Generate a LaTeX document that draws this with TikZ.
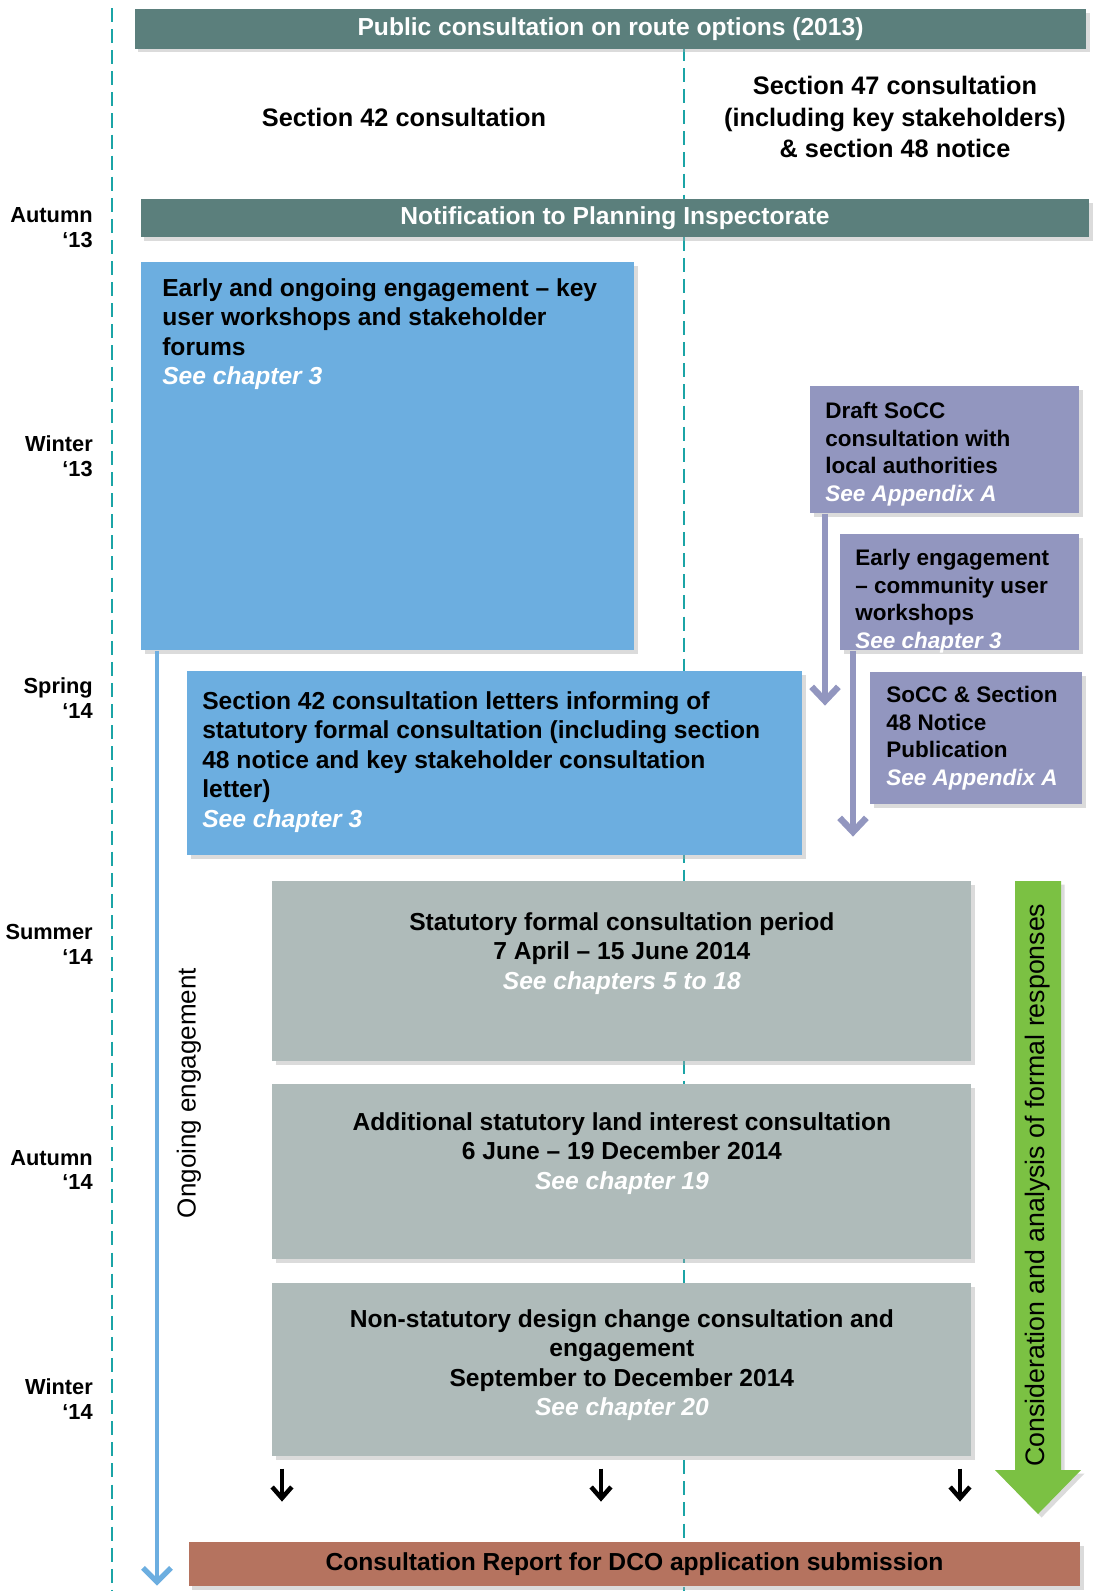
\documentclass[tikz,border=0pt]{standalone}
\usepackage{fontspec}
\setmainfont{Liberation Sans}
\usepackage{xcolor}
\usetikzlibrary{arrows.meta, positioning, calc, shadows}

\definecolor{barteal}{HTML}{5B7F7C}
\definecolor{dashteal}{HTML}{1BA4A6}
\definecolor{engblue}{HTML}{6CAEE0}
\definecolor{socpurple}{HTML}{9296BF}
\definecolor{statgrey}{HTML}{AFBBBA}
\definecolor{reportbrown}{HTML}{B5735F}
\definecolor{respgreen}{HTML}{7BC143}

\newcommand\mainsize{\fontsize{17.5}{21}\selectfont}
\newcommand\socsize{\fontsize{16}{19.6}\selectfont}
\newcommand\seeref[1]{\textcolor{white}{\itshape #1}}

\begin{document}
\begin{tikzpicture}[x=0.025cm, y=-0.025cm, font=\bfseries\mainsize,
    boxshadow/.style={drop shadow={shadow xshift=2.5pt, shadow yshift=-2.5pt, fill=black!35, opacity=0.4}},
    bar/.style={fill=barteal, boxshadow, text=white, inner sep=0pt},
    stagebox/.style={fill=#1, boxshadow, inner sep=0pt, anchor=north west},
    boxtext/.style={inner sep=0pt, align=left, anchor=north west},
    socbox/.style={boxtext, font=\bfseries\socsize},
    greytext/.style={inner sep=0pt, align=center, anchor=north},
    season/.style={anchor=east, align=right, inner sep=0pt, font=\bfseries\fontsize{15.5}{17.7}\selectfont},
    timeline/.style={dashteal, line width=2.1pt, dash pattern=on 10pt off 5pt},
    purplearr/.style={socpurple, line width=4.3pt, -{Straight Barb[length=10pt, width=19pt, line width=4.6pt]}},
    bluearr/.style={engblue, line width=2.9pt, -{Straight Barb[length=10pt, width=20pt, line width=3.8pt]}},
    blackarr/.style={black, line width=2.6pt, -{Straight Barb[length=8pt, width=14pt, line width=3.2pt]}}]
    \useasboundingbox (0,0) rectangle (1103,1591);

    % dashed guides
    \draw[timeline] (112,8) -- (112,1591);
    \draw[timeline] (684,47) -- (684,1591);

    % header
    \node[bar, minimum width=23.775cm, minimum height=0.975cm] (route) at (610.5,29) {Public consultation on route options (2013)};
    \node[font=\bfseries\fontsize{18}{22}\selectfont] (s42) at (404,117) {Section 42 consultation};
    \node[align=center, font=\bfseries\fontsize{18}{22.7}\selectfont] (s47) at (895,117) {Section 47 consultation\\(including key stakeholders)\\\& section 48 notice};
    \node[bar, minimum width=23.7cm, minimum height=0.95cm] (notify) at (615,218) {Notification to Planning Inspectorate};

    % seasons
    \node[season] (aut13) at (93,228) {Autumn\\‘13};
    \node[season] (win13) at (93,456) {Winter\\‘13};
    \node[season] (spr14) at (93,698) {Spring\\‘14};
    \node[season] (sum14) at (93,944.5) {Summer\\‘14};
    \node[season] (aut14) at (93,1170) {Autumn\\‘14};
    \node[season] (win14) at (93,1399.5) {Winter\\‘14};

    % section 42 column
    \node[stagebox=engblue, minimum width=12.325cm, minimum height=9.7cm] (early) at (141,262) {};
    \node[boxtext] (earlytxt) at ($(early.north west)+(21,16)$) {Early and ongoing engagement – key\\user workshops and stakeholder\\forums\\\seeref{See chapter 3}};
    \node[stagebox=engblue, minimum width=15.375cm, minimum height=4.6cm] (letters) at (187,671) {};
    \node[boxtext] (letterstxt) at ($(letters.north west)+(15,20)$) {Section 42 consultation letters informing of\\statutory formal consultation (including section\\48 notice and key stakeholder consultation\\letter)\\\seeref{See chapter 3}};

    % section 47 column
    \node[stagebox=socpurple, minimum width=6.725cm, minimum height=3.175cm] (draft) at (810,386) {};
    \node[socbox] (drafttxt) at ($(draft.north west)+(15,16)$) {Draft SoCC\\consultation with\\local authorities\\\seeref{See Appendix A}};
    \node[stagebox=socpurple, minimum width=5.975cm, minimum height=2.9cm] (community) at (840,534) {};
    \node[socbox] (communitytxt) at ($(community.north west)+(15,15)$) {Early engagement\\– community user\\workshops\\\seeref{See chapter 3}};
    \node[stagebox=socpurple, minimum width=5.3cm, minimum height=3.3cm] (publish) at (870,672) {};
    \node[socbox] (publishtxt) at ($(publish.north west)+(16,14)$) {SoCC \& Section\\48 Notice\\Publication\\\seeref{See Appendix A}};
    \draw[purplearr] ($(draft.south west)+(15,0)$) -- ++(0,192);
    \draw[purplearr] ($(community.south west)+(13,0)$) -- ++(0,186);

    % statutory stages
    \node[stagebox=statgrey, minimum width=17.475cm, minimum height=4.5cm] (stat1) at (272,881) {};
    \node[greytext] (stat1txt) at ($(stat1.north)+(0,31)$) {Statutory formal consultation period\\7 April – 15 June 2014\\\seeref{See chapters 5 to 18}};
    \node[stagebox=statgrey, minimum width=17.475cm, minimum height=4.375cm] (stat2) at (272,1084) {};
    \node[greytext] (stat2txt) at ($(stat2.north)+(0,28)$) {Additional statutory land interest consultation\\6 June – 19 December 2014\\\seeref{See chapter 19}};
    \node[stagebox=statgrey, minimum width=17.475cm, minimum height=4.325cm] (stat3) at (272,1283) {};
    \node[greytext] (stat3txt) at ($(stat3.north)+(0,26)$) {Non-statutory design change consultation and\\engagement\\September to December 2014\\\seeref{See chapter 20}};

    \draw[blackarr] ($(stat3.south west)+(10,12)$) -- ++(0,33);
    \draw[blackarr] ($(stat3.south west)+(329,12)$) -- ++(0,33);
    \draw[blackarr] ($(stat3.south west)+(688,12)$) -- ++(0,33);

    % responses arrow
    \fill[respgreen, boxshadow] (1015,881) -- (1061,881) -- (1061,1470) -- (1081,1470) -- (1038,1514) -- (995,1470) -- (1015,1470) -- cycle;
    \node[rotate=90, font=\mdseries\fontsize{19}{22}\selectfont] (resptxt) at (1038,1185) {Consideration and analysis of formal responses};

    % ongoing engagement
    \draw[bluearr] ($(early.south west)+(16,0)$) -- ++(0,935);
    \node[rotate=90, font=\mdseries\fontsize{18.5}{22}\selectfont] (ongoing) at (189,1093) {Ongoing engagement};

    % report
    \node[fill=reportbrown, boxshadow, minimum width=22.275cm, minimum height=1.1cm] (report) at (634.5,1564) {Consultation Report for DCO application submission};
\end{tikzpicture}
\end{document}
